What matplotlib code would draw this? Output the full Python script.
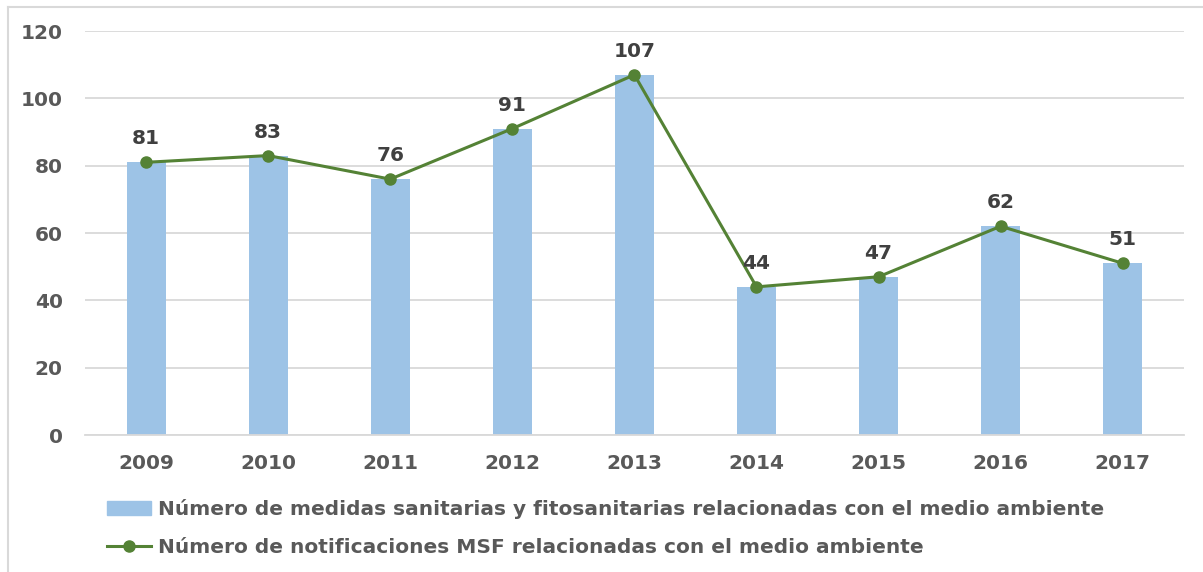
import numpy as np
import matplotlib.pyplot as plt
from matplotlib.lines import Line2D
from matplotlib.patches import Patch

# data
years = ['2009', '2010', '2011', '2012', '2013', '2014', '2015', '2016', '2017']
medidas = [81, 83, 76, 91, 107, 44, 47, 62, 51]
notificaciones = [81, 83, 76, 91, 107, 44, 47, 62, 51]

bar_label = 'Número de medidas sanitarias y fitosanitarias relacionadas con el medio ambiente'
line_label = 'Número de notificaciones MSF relacionadas con el medio ambiente'

bar_color = '#9DC3E6'
line_color = '#548235'
text_color = '#595959'

plt.rcParams['font.family'] = ['DejaVu Sans']
plt.rcParams['font.weight'] = 'bold'

fig = plt.figure(figsize=(12.03, 5.72), dpi=100)
ax = fig.add_axes([0.0707, 0.2395, 0.9133, 0.7063])

x = np.arange(len(years))
ax.bar(x, medidas, width=0.32, color=bar_color, zorder=2)
ax.plot(x, notificaciones, color=line_color, lw=2.2, marker='o', ms=8, zorder=3)

# value labels above the points
for xi, v in zip(x, notificaciones):
    ax.annotate(str(v), (xi, v), xytext=(0, 10), textcoords='offset points',
                ha='center', va='bottom', fontsize=14.5, fontweight='bold', color='#404040')

ax.set_xlim(-0.5, len(years) - 0.5)
ax.set_ylim(0, 120)
ax.set_yticks(range(0, 121, 20))
ax.set_xticks(x)
ax.set_xticklabels(years)
ax.tick_params(axis='both', length=0, labelsize=14.5, labelcolor=text_color)
ax.tick_params(axis='x', pad=14)
ax.tick_params(axis='y', pad=16)
for lbl in ax.get_xticklabels() + ax.get_yticklabels():
    lbl.set_fontweight('bold')
ax.grid(axis='y', color='#D9D9D9', lw=1.3, zorder=0)
for s in ['top', 'right', 'left']:
    ax.spines[s].set_visible(False)
ax.spines['bottom'].set_color('#D9D9D9')
ax.spines['bottom'].set_linewidth(1.3)

handles = [Patch(color=bar_color),
           Line2D([0], [0], color=line_color, lw=2.2, marker='o', ms=8)]
leg = fig.legend(handles, [bar_label, line_label], loc='upper left',
                 bbox_to_anchor=(0.089, 0.128), frameon=False, fontsize=14.5,
                 labelcolor=text_color, handlelength=2.2, handletextpad=0.35,
                 labelspacing=0.95, borderpad=0, borderaxespad=0)
for t in leg.get_texts():
    t.set_fontweight('bold')

# light frame on top and left as in the source image
fig.add_artist(Line2D([8 / 1203, 1.0], [1 - 7 / 572, 1 - 7 / 572], color='#D9D9D9', lw=1.5,
                      transform=fig.transFigure))
fig.add_artist(Line2D([8 / 1203, 8 / 1203], [0.0, 1 - 7 / 572], color='#D9D9D9', lw=1.5,
                      transform=fig.transFigure))

fig.savefig('out.png', dpi=100)
